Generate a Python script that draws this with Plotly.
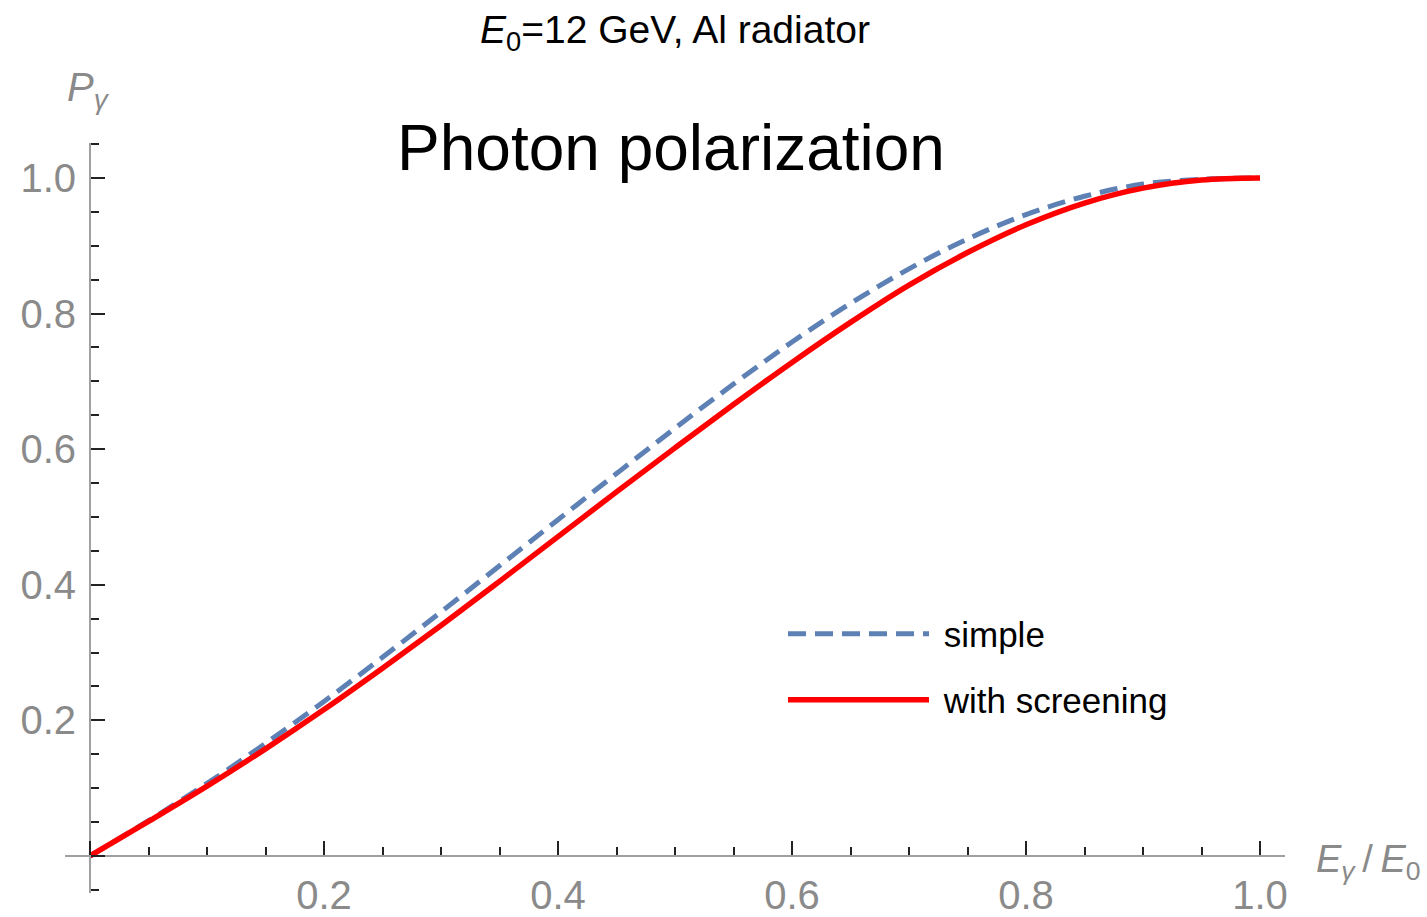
import plotly.graph_objects as go

# ---- data ----
x_vals = [0.0, 0.05, 0.10, 0.15, 0.20, 0.25, 0.30, 0.35, 0.40, 0.45, 0.50,
          0.55, 0.60, 0.65, 0.70, 0.75, 0.80, 0.85, 0.90, 0.95, 1.0]
p_simple = [0.0, 0.052, 0.107, 0.166, 0.228, 0.293, 0.360, 0.428, 0.496, 0.564, 0.631,
            0.696, 0.758, 0.815, 0.866, 0.910, 0.946, 0.973, 0.991, 0.998, 1.0]
p_screen = [0.0, 0.051, 0.103, 0.158, 0.216, 0.277, 0.340, 0.405, 0.471, 0.537, 0.602,
            0.666, 0.728, 0.787, 0.842, 0.890, 0.931, 0.963, 0.985, 0.997, 1.0]

x_major = [0.0, 0.2, 0.4, 0.6, 0.8, 1.0]
x_major_text = ["", "0.2", "0.4", "0.6", "0.8", "1.0"]
y_major = [0.0, 0.2, 0.4, 0.6, 0.8, 1.0]
y_major_text = ["", "0.2", "0.4", "0.6", "0.8", "1.0"]
x_minor = [0.05, 0.10, 0.15, 0.25, 0.30, 0.35, 0.45, 0.50, 0.55,
           0.65, 0.70, 0.75, 0.85, 0.90, 0.95]
y_minor = [-0.05, 0.05, 0.10, 0.15, 0.25, 0.30, 0.35, 0.45, 0.50, 0.55,
           0.65, 0.70, 0.75, 0.85, 0.90, 0.95, 1.05]

series_names = ["\u00a0simple", "\u00a0with screening"]
title_text = "<i>E</i><sub>0</sub>=12 GeV, Al radiator"
inner_title = "Photon polarization"

# ---- layout geometry ----
W, H = 1427, 917
ML, MR, MT, MB = 65, 142, 143, 24
PW, PH = W - ML - MR, H - MT - MB
x_range = [-0.02137, 1.02137]
y_range = [-0.0546, 1.0516]

def px_x(px):
    return (px - ML) / PW

def px_y(py):
    return (H - MB - py) / PH

x_axis_pos = (0 - y_range[0]) / (y_range[1] - y_range[0])
y_axis_pos = (0 - x_range[0]) / (x_range[1] - x_range[0])

FONT = "Liberation Sans, Arial, Helvetica, sans-serif"
BLUE = "#5E81B5"
RED = "#FF0000"
GRAY = "#8a8a8a"

fig = go.Figure()
fig.add_trace(go.Scatter(
    x=x_vals, y=p_simple, mode="lines", name=series_names[0],
    line=dict(color=BLUE, width=5, dash="18px,9px", shape="spline", smoothing=1.0),
    legend="legend"))
fig.add_trace(go.Scatter(
    x=x_vals, y=p_screen, mode="lines", name=series_names[1],
    line=dict(color=RED, width=5.5, shape="spline", smoothing=1.0),
    legend="legend2"))

axis_common = dict(
    showgrid=False, zeroline=False, showline=True, linecolor="#a0a0a0", linewidth=2,
    ticks="inside", ticklen=14, tickwidth=1.6, tickcolor="#222222",
    tickfont=dict(family=FONT, size=40, color=GRAY),
    automargin=False, anchor="free", fixedrange=True,
)

fig.update_layout(
    width=W, height=H,
    margin=dict(l=ML, r=MR, t=MT, b=MB, pad=0),
    paper_bgcolor="white", plot_bgcolor="white",
    showlegend=True,
    xaxis=dict(range=x_range, tickmode="array", tickvals=x_major, ticktext=x_major_text,
               position=x_axis_pos, ticklabelstandoff=4,
               minor=dict(tickmode="array", tickvals=x_minor, ticks="inside", ticklen=8,
                          tickwidth=1.6, tickcolor="#222222"),
               **axis_common),
    yaxis=dict(range=y_range, tickmode="array", tickvals=y_major, ticktext=y_major_text,
               position=y_axis_pos, ticklabelstandoff=5,
               minor=dict(tickmode="array", tickvals=y_minor, ticks="inside", ticklen=8,
                          tickwidth=1.6, tickcolor="#222222"),
               **axis_common),
    legend=dict(x=px_x(783), y=px_y(634), xanchor="left", yanchor="middle",
                itemwidth=141, bgcolor="rgba(0,0,0,0)",
                font=dict(family=FONT, size=35, color="black")),
    legend2=dict(x=px_x(783), y=px_y(700), xanchor="left", yanchor="middle",
                 itemwidth=141, bgcolor="rgba(0,0,0,0)",
                 font=dict(family=FONT, size=35, color="black")),
    annotations=[
        dict(text=title_text, x=px_x(675), y=px_y(32), xref="paper", yref="paper",
             xanchor="center", yanchor="middle", showarrow=False,
             font=dict(family=FONT, size=39, color="black")),
        dict(text=inner_title, x=px_x(671), y=px_y(148), xref="paper", yref="paper",
             xanchor="center", yanchor="middle", showarrow=False,
             font=dict(family=FONT, size=64, color="black")),
        dict(text="<i>P</i><sub><i>γ</i></sub>", x=px_x(65), y=px_y(90), xref="paper",
             yref="paper", xanchor="left", yanchor="middle", showarrow=False,
             font=dict(family=FONT, size=40, color=GRAY)),
        dict(text="<i>E</i><sub><i>γ</i></sub>\u2009/\u2009<i>E</i><sub>0</sub>",
             x=px_x(1314), y=px_y(862), xref="paper", yref="paper", xanchor="left",
             yanchor="middle", showarrow=False, font=dict(family=FONT, size=38, color=GRAY)),
    ],
)

fig.write_html("out.html")
